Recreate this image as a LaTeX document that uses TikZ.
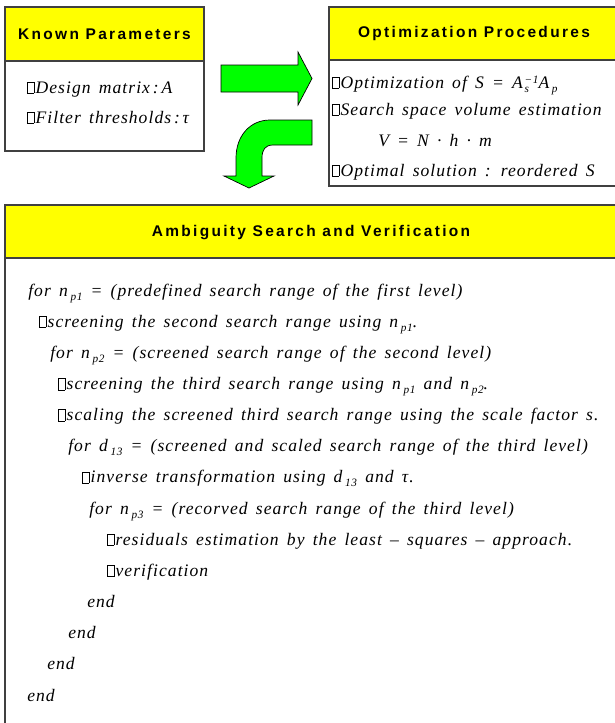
\documentclass[tikz,border=0pt]{standalone}
\usepackage{fontspec}
\setmainfont{Liberation Serif}
\newfontfamily\headfont[LetterSpace=15]{Liberation Sans}
\newfontfamily\eqfont[LetterSpace=6, WordSpace=1.5]{Liberation Serif}
\usetikzlibrary{positioning}
\definecolor{headyellow}{HTML}{FFFF00}
\definecolor{arrowgreen}{HTML}{00FF00}
\definecolor{framegray}{HTML}{404040}

% glyph box as printed, low subscripts, stacked indices
\newcommand\nobox{{\setlength{\fboxsep}{0pt}\setlength{\fboxrule}{0.35pt}\fbox{\rule{0pt}{0.62em}\hspace{0.34em}}}\kern0.08em}
\newcommand\lowsub[1]{\kern0.15em\raisebox{-0.5ex}{\fontsize{8}{9}\selectfont #1}}
\newcommand\subsup[2]{\kern0.1em\raisebox{-0.6ex}{\fontsize{8}{7}\selectfont\shortstack[l]{#2\\#1}}}

\tikzset{
  panel/.style={draw=framegray, line width=0.8pt, fill=white},
  headbar/.style={draw=framegray, line width=0.8pt, fill=headyellow},
  headtext/.style={font=\headfont\fontsize{11}{13}\selectfont\bfseries},
  eqline/.style={anchor=base west, inner sep=0pt, font=\eqfont\itshape\fontsize{12.5}{15}\selectfont},
  blockarrow/.style={fill=arrowgreen, draw=black, line width=0.5pt, line join=miter},
}

\begin{document}
\begin{tikzpicture}[x=0.025cm, y=-0.025cm]
  \useasboundingbox (0,0) rectangle (614,723);

  % Known parameters
  \draw[panel] (5,7) rectangle (204,151);
  \draw[headbar] (5,7) rectangle (204,61);
  \node[headtext] (knownhead) at (104.5,34) {Known Parameters};
  \node[eqline] (known1) at (27,93) {\nobox Design matrix\kern2pt:\kern2pt A};
  \node[eqline] (known2) at (27,123) {\nobox Filter thresholds\kern2pt:\kern2pt τ};

  % Optimization procedures
  \draw[panel] (329,7) rectangle (618,186);
  \draw[headbar] (329,7) rectangle (618,60);
  \node[headtext] (opthead) at (474,33) {Optimization Procedures};
  \node[eqline] (opt1) at (332,88) {\nobox Optimization of  S = A\subsup{s}{−1}A\lowsub{p}};
  \node[eqline] (opt2) at (332,115) {\nobox Search space volume estimation};
  \node[eqline] (opt3) at (378,146) {V = N · h · m};
  \node[eqline] (opt4) at (332,176) {\nobox Optimal solution : reordered  S};

  % Block arrows
  \draw[blockarrow] (221,65) -- (298,65) -- (298,52) -- (312,78.5) -- (298,105)
    -- (298,92) -- (221,92) -- cycle;
  \draw[blockarrow] (312,120) -- (270,120) .. controls (250,120) and (236,136) .. (236,158)
    -- (236,176) -- (224,176) -- (249,188) -- (274,176) -- (262,176) -- (262,158)
    .. controls (262,150) and (265,145) .. (273,145) -- (312,145) -- cycle;

  % Ambiguity search and verification
  \draw[panel] (5,205) rectangle (618,727);
  \draw[headbar] (5,205) rectangle (618,258);
  \node[headtext] (searchhead) at (311,233) {Ambiguity Search and Verification};

  \node[eqline] (step0) at (28,296.0) {for  n\lowsub{p1} = (predefined  search  range  of  the  first  level)};
  \node[eqline] (step1) at (39,327.2) {\nobox screening  the  second  search  range using  n\lowsub{p1}.};
  \node[eqline] (step2) at (50,358.3) {for  n\lowsub{p2} = (screened  search range  of  the  second  level)};
  \node[eqline] (step3) at (58,389.5) {\nobox screening  the  third  search  range using  n\lowsub{p1}  and  n\lowsub{p2}.};
  \node[eqline] (step4) at (58,420.6) {\nobox scaling  the  screened  third  search  range using  the  scale  factor  s.};
  \node[eqline] (step5) at (68,451.8) {for  d\lowsub{13} = (screened  and  scaled  search  range  of  the  third  level)};
  \node[eqline] (step6) at (82,482.9) {\nobox inverse  transformation  using  d\lowsub{13}  and  τ.};
  \node[eqline] (step7) at (89,514.1) {for  n\lowsub{p3} = (recorved  search  range  of  the  third  level)};
  \node[eqline] (step8) at (107,545.2) {\nobox residuals  estimation  by  the  least – squares – approach.};
  \node[eqline] (step9) at (107,576.4) {\nobox verification};
  \node[eqline] (end3) at (87,607.5) {end};
  \node[eqline] (end2) at (68,638.7) {end};
  \node[eqline] (end1) at (47,669.8) {end};
  \node[eqline] (end0) at (27,701.0) {end};
\end{tikzpicture}
\end{document}
